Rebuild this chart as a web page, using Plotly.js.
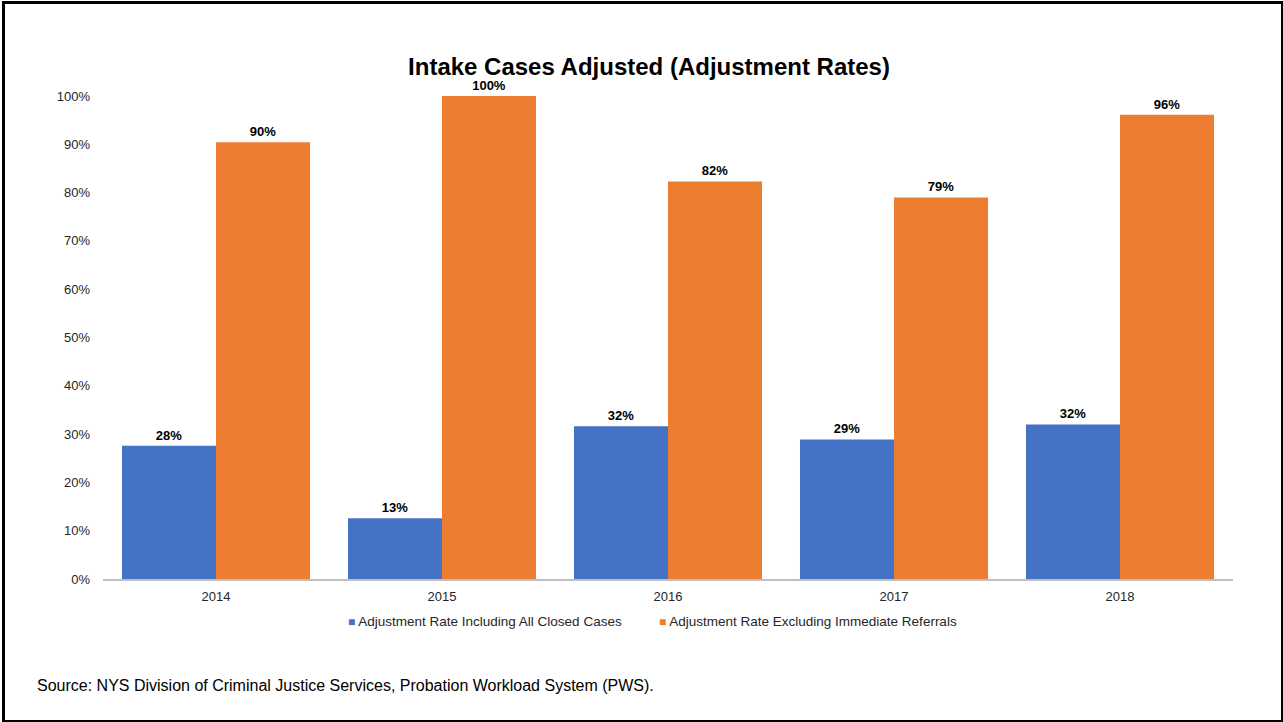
<!DOCTYPE html>
<html>
<head>
<meta charset="utf-8">
<script src="https://cdn.plot.ly/plotly-3.0.1.min.js"></script>
<style>
html,body{margin:0;padding:0;background:#fff;}
#wrap{position:relative;width:1283px;height:722px;}
#chart{position:absolute;left:0;top:0;width:1283px;height:722px;}
#frame{position:absolute;left:2px;top:1px;width:1276px;height:716px;border:3px solid #000;pointer-events:none;}
</style>
</head>
<body>
<div id="wrap"><div id="chart"></div><div id="frame"></div></div>
<script>
const years = ['2014', '2015', '2016', '2017', '2018'];
const seriesNames = ['Adjustment Rate Including All Closed Cases', 'Adjustment Rate Excluding Immediate Referrals'];
const seriesColors = ['#4472C4', '#ED7D31'];
const includingAll = [27.6, 12.6, 31.6, 28.9, 32.0];
const excludingReferrals = [90.4, 100, 82.3, 79.0, 96.1];
const yTicks = [0, 10, 20, 30, 40, 50, 60, 70, 80, 90, 100];
const titleText = 'Intake Cases Adjusted (Adjustment Rates)';
const sourceText = 'Source: NYS Division of Criminal Justice Services, Probation Workload System (PWS).';

const FONT = 'Liberation Sans, Arial, sans-serif';
const fmt = v => Math.round(v) + '%';

const traces = [includingAll, excludingReferrals].map((vals, i) => ({
  type:'bar', name:seriesNames[i], x:years, y:vals,
  marker:{color:seriesColors[i]}, text:vals.map(fmt), textposition:'outside',
  textfont:{family:FONT, size:13, color:'#000', weight:'bold'}, cliponaxis:false, hoverinfo:'skip'
}));

const legendX = [0.2177, 0.4929];
const legendAnnotations = seriesNames.map((n, i) => ({
  text:'<span style="color:' + seriesColors[i] + ';font-size:12px">■</span> ' + n,
  xref:'paper', yref:'paper', x:legendX[i], y:-0.089, xanchor:'left', yanchor:'middle', xshift:-3,
  showarrow:false, font:{family:FONT, size:13.5, color:'#262626'}
}));

const layout = {
  width:1283, height:722,
  margin:{l:103, r:50, t:96, b:143},
  paper_bgcolor:'#fff', plot_bgcolor:'#fff',
  font:{family:FONT, size:13, color:'#262626'},
  title:{text:'<b>'+titleText+'</b>', font:{family:FONT, size:24, color:'#000'}, x:0.4832, xref:'paper', xanchor:'center', y:0.908, yref:'container', yanchor:'middle'},
  bargap:0.168, bargroupgap:0,
  barmode:'group',
  xaxis:{type:'category', showgrid:false, zeroline:false, showline:true, linecolor:'#BFBFBF', linewidth:2,
         ticks:'', tickfont:{family:FONT, size:13, color:'#262626'}, ticklabelstandoff:4},
  yaxis:{range:[0,100], tickvals:yTicks, ticktext:yTicks.map(v=>v+'%'), showgrid:false, zeroline:false, showline:false,
         ticks:'', tickfont:{family:FONT, size:13, color:'#262626'}, ticklabelstandoff:12},
  showlegend:false,
  annotations:legendAnnotations.concat([
    {text:sourceText, xref:'paper', yref:'paper', x:-0.0575, y:-0.2195, xanchor:'left', yanchor:'middle', xshift:-3, showarrow:false,
     font:{family:FONT, size:16, color:'#000'}}
  ])
};

Plotly.newPlot('chart', traces, layout, {displayModeBar:false, staticPlot:true});
</script>
</body>
</html>
